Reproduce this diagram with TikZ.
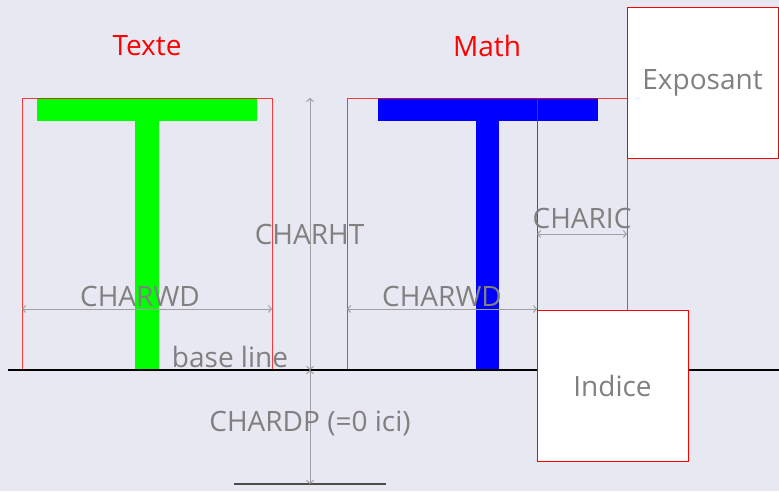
\documentclass[tikz,border=0pt]{standalone}
\usepackage{fontspec}
\newfontfamily\labfont{Open Sans}
\usetikzlibrary{arrows.meta}
\definecolor{fond}{RGB}{232,232,242}

\begin{document}
\begin{tikzpicture}[x=1pt, y=-1pt,
    boite/.style={draw=red, draw opacity=0.75, line width=1pt},
    cote/.style={draw=gray!75, line width=1pt, {Straight Barb[length=3pt,width=7pt]}-{Straight Barb[length=3pt,width=7pt]}},
    etiq/.style={text=gray, font=\labfont\fontsize{28}{33}\selectfont, inner sep=0pt},
    titre/.style={text=red, font=\labfont\fontsize{28}{33}\selectfont, inner sep=0pt},
    extra/.style={draw=red, line width=1pt, fill=white, text=gray, font=\labfont\fontsize{28}{33}\selectfont, minimum width=151pt, minimum height=151pt, inner sep=0pt}
]

% fond
\fill[fond] (0,0) rectangle (779,491);
\useasboundingbox (0,0) rectangle (779,491);

% points de repere
\coordinate (htA) at (310,98);
\coordinate (blA) at (310,370);
\coordinate (dpA) at (310,484);
\coordinate (wdAl) at (22,309);
\coordinate (wdAr) at (272,309);
\coordinate (wdBl) at (347,309);
\coordinate (wdBr) at (537,309);
\coordinate (icl) at (537,234);
\coordinate (icr) at (627,234);

% lettres T
\fill[green] (37,98) rectangle (257,121);
\fill[green] (135,121) rectangle (159,370);
\fill[blue] (378,98) rectangle (598,121);
\fill[blue] (476,121) rectangle (499,370);

% boites des caracteres
\draw[boite] (22,98) rectangle (272,370);
\draw[boite] (347,98) rectangle (537,370);
\draw[boite] (537,98) rectangle (627,310);

% ligne de base et profondeur
\draw[black, line width=2pt] (8,370) -- (779,370);
\draw[black!70, line width=1.5pt] (234,484) -- (386,484);

% cotes
\draw[cote] (htA) -- (blA);
\draw[cote] (blA) -- (dpA);
\draw[cote] (wdAl) -- (wdAr);
\draw[cote] (wdBl) -- (wdBr);
\draw[cote] (icl) -- (icr);

% exposant et indice
\node[extra] (expo) at (702.5,82.5) {Exposant};
\node[extra] (ind) at (612.5,385.5) {Indice};

% titres
\node[titre] (texte) at (147,46) {Texte};
\node[titre] (math) at (487,46) {Math};

% etiquettes
\node[etiq] (charht) at (309.5,234) {CHARHT};
\node[etiq] (charwdA) at (140,296) {CHARWD};
\node[etiq] (charwdB) at (442,296) {CHARWD};
\node[etiq] (charic) at (582,218) {CHARIC};
\node[etiq, anchor=base] (base) at (230,367) {base line};
\node[etiq] (chardp) at (310,423) {CHARDP (=0 ici)};

\end{tikzpicture}
\end{document}
